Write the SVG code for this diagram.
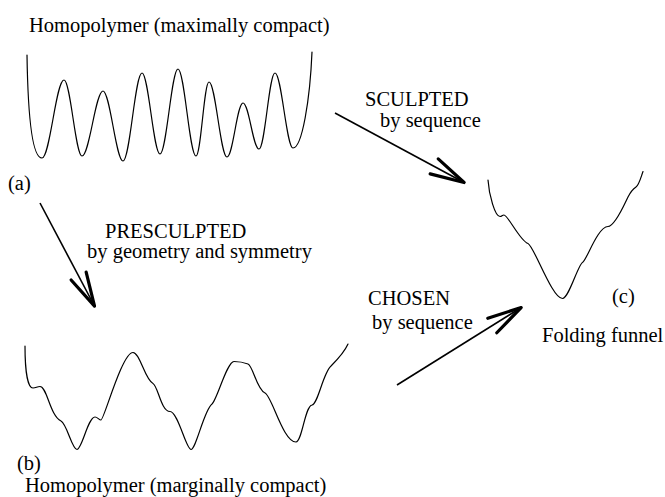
<svg xmlns="http://www.w3.org/2000/svg" width="665" height="497" viewBox="0 0 665 497">
<style>
text{font-family:"Liberation Serif","Times New Roman",serif;font-size:20.5px;fill:#000}
.curve{fill:none;stroke:#000;stroke-width:1.2;stroke-linecap:round;stroke-linejoin:round}
.shaft{fill:none;stroke:#000;stroke-width:1.6}
.barb{fill:none;stroke:#000;stroke-width:3.2;stroke-linecap:round;stroke-linejoin:round}
</style>
<defs>
<marker id="arr" markerUnits="userSpaceOnUse" orient="auto" markerWidth="44" markerHeight="24" viewBox="-40 -12 44 24" refX="0" refY="0" overflow="visible">
<path class="barb" d="M-35,-8.5 L-1,0 L-35,8.5"/>
</marker>
</defs>
<rect width="665" height="497" fill="#fff"/>
<g id="node-a">
<text x="29" y="32">Homopolymer (maximally compact)</text>
<path class="curve" d="M27,55 C28,120 33,158 42,158 C50,158 56,80 64,80 C70.5,80 75.5,156 82,156 C89.5,156 95.5,91 103,91 C110,91 116,161 123,161 C130,161 135,73 142,73 C148.5,73 153.5,154 160,154 C166.5,154 171.5,69 178,69 C184.5,69 189.5,156 196,156 C201,156 204,82 209,82 C215.5,82 220.5,157 227,157 C233,157 237,103 243,103 C249,103 253,149 259,149 C265,149 269,73 275,73 C281.5,73 286.5,148 293,148 C302,148 310,100 312,52"/>
<text x="8" y="190">(a)</text>
</g>
<g id="node-b">
<path class="curve" d="M25,346 C25,372 28,388 33,388 C36,388 37,386.5 40,386.5 C47,386.5 50,416 61,421 C67,424 72,449.5 77,449.5 C82,449.5 88,417 95,417 C97.5,417 99,420 101,420 C104,420 122,352.5 133,352.5 C140,352.5 145,380 153,383.5 C158,386 161,411.5 170,411.5 C178,411.5 186,449.5 191,449.5 C196,449.5 204,410 212,404 C217,400 227,361.5 234,361.5 C240,361.5 244,362.5 248,364 C253,366 257,390 265,393 C272,396 283,442 296,442 C302,442 305,406 312,405 C318,404 323,373 331,366 C337,360 344,353 348,344"/>
<text x="17" y="470">(b)</text>
<text x="25" y="492">Homopolymer (marginally compact)</text>
</g>
<g id="node-c">
<path class="curve" d="M488,180 C489,195 495,216.5 500,216.5 C502,216.5 502,215 504,215 C508,215 520,241 528,243.5 C534,246 552,298.5 562.5,298.5 C569,298.5 578,264 583,262 C587,259 598,226.5 608,226.5 C615,226.5 625,203 628,197 C630,193 633,189 636,187 C639,185 641,177 643,171.5"/>
<text x="612" y="303">(c)</text>
<text x="542" y="342">Folding funnel</text>
</g>
<g id="connectors">
<line class="shaft" x1="335" y1="113" x2="465" y2="183" marker-end="url(#arr)"/>
<line class="shaft" x1="40" y1="203" x2="95" y2="307" marker-end="url(#arr)"/>
<line class="shaft" x1="397" y1="385" x2="522" y2="307" marker-end="url(#arr)"/>
<text x="365" y="106">SCULPTED</text>
<text x="380" y="127">by sequence</text>
<text x="105" y="238">PRESCULPTED</text>
<text x="87" y="258">by geometry and symmetry</text>
<text x="368" y="305">CHOSEN</text>
<text x="372" y="329">by sequence</text>
</g>
</svg>
